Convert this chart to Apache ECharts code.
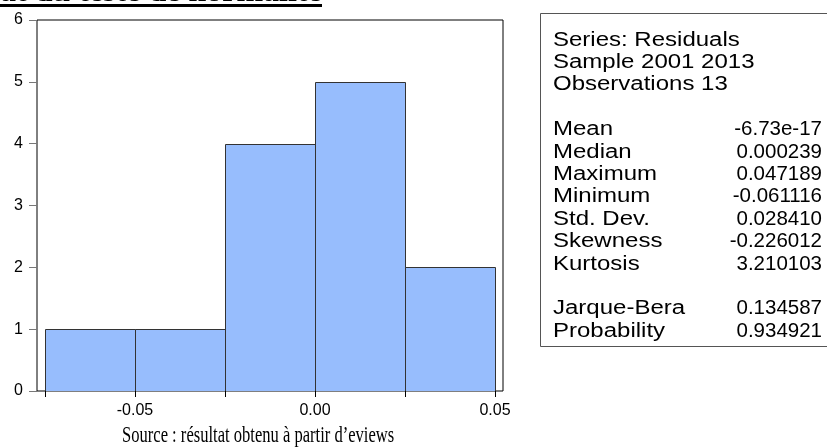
<!DOCTYPE html>
<html>
<head>
<meta charset="utf-8">
<script src="https://cdn.jsdelivr.net/npm/echarts@6/dist/echarts.min.js"></script>
<style>
  html, body { margin: 0; padding: 0; background: #fff; }
  #chart { width: 827px; height: 448px; }
</style>
</head>
<body>
<div id="chart"></div>
<script>
// histogram bins (lower edge, upper edge) and counts
const binStart = [-0.075, -0.05, -0.025, 0.0, 0.025];
const binEnd = [-0.05, -0.025, 0.0, 0.025, 0.05];
const counts = [1, 1, 4, 5, 2];

const xTicks = [-0.075, -0.05, -0.025, 0.0, 0.025, 0.05];
const xLabels = [-0.05, 0.0, 0.05];

const statHeader = ['Series: Residuals', 'Sample 2001 2013', 'Observations 13'];
const statNames = ['Mean', 'Median', 'Maximum', 'Minimum', 'Std. Dev.', 'Skewness', 'Kurtosis'];
const statValues = ['-6.73e-17', '0.000239', '0.047189', '-0.061116', '0.028410', '-0.226012', '3.210103'];
const testNames = ['Jarque-Bera', 'Probability'];
const testValues = ['0.134587', '0.934921'];

const chart = echarts.init(document.getElementById('chart'));

const sansFont = 'Liberation Sans, Arial, sans-serif';
const serifFont = 'Liberation Serif, Times New Roman, serif';
const lineH = 22.4;
const boxLeft = 553;
const boxRight = 822;
const firstRow = 40;

const statText = [];
const addRow = (label, value, row) => {
  const y = firstRow + row * lineH;
  statText.push({
    type: 'text', x: boxLeft, y: y, scaleX: 1.2,
    style: { text: label, font: '20px ' + sansFont, fill: '#000', verticalAlign: 'middle' }
  });
  if (value) {
    statText.push({
      type: 'text', x: boxRight, y: y,
      style: { text: value, font: '20.5px ' + sansFont, fill: '#000', align: 'right', verticalAlign: 'middle' }
    });
  }
};
statHeader.forEach((t, i) => addRow(t, null, i));
statNames.forEach((t, i) => addRow(t, statValues[i], i + 4));
testNames.forEach((t, i) => addRow(t, testValues[i], i + 12));

const option = {
  animation: false,
  grid: {
    left: 37, right: 324, top: 20, bottom: 57,
    show: true, borderColor: '#000', borderWidth: 1
  },
  xAxis: {
    type: 'value',
    min: -0.07722,
    max: 0.05222,
    axisLine: { show: false, onZero: false },
    splitLine: { show: false },
    axisTick: { show: true, length: 6, customValues: xTicks, lineStyle: { color: '#000' } },
    axisLabel: {
      customValues: xLabels,
      margin: 12,
      color: '#000',
      fontSize: 16,
      fontFamily: sansFont,
      formatter: v => v.toFixed(2)
    }
  },
  yAxis: {
    type: 'value',
    min: 0, max: 6, interval: 1,
    axisLine: { show: false, onZero: false },
    splitLine: { show: false },
    axisTick: { show: true, length: 8, lineStyle: { color: '#777' } },
    axisLabel: { margin: 14, color: '#000', fontSize: 16, fontFamily: sansFont }
  },
  series: [{
    type: 'custom',
    clip: true,
    data: counts.map((c, i) => [binStart[i], binEnd[i], c]),
    encode: { x: [0, 1], y: 2 },
    renderItem: (params, api) => {
      const p0 = api.coord([api.value(0), api.value(2)]);
      const p1 = api.coord([api.value(1), 0]);
      const x0 = Math.round(p0[0]) + 0.5;
      const x1 = Math.round(p1[0]) + 0.5;
      const y0 = Math.round(p0[1]) + 0.5;
      const y1 = Math.round(p1[1]) + 0.5;
      return {
        type: 'rect',
        shape: { x: x0, y: y0, width: x1 - x0, height: y1 - y0 },
        style: { fill: '#97bdfd', stroke: '#333', lineWidth: 1 }
      };
    }
  }],
  graphic: [
    {
      type: 'text', x: 0, y: 9,
      style: { text: 'at du teste de normalité', font: 'bold 32px ' + serifFont, fill: '#000', verticalAlign: 'bottom' }
    },
    { type: 'rect', x: 0, y: 4, shape: { width: 322, height: 3 }, style: { fill: '#000' } },
    {
      type: 'rect', x: 540.5, y: 13.5,
      shape: { width: 300, height: 333 },
      style: { fill: '#fff', stroke: '#555', lineWidth: 1 }
    },
    ...statText,
    {
      type: 'text', x: 122, y: 436, scaleX: 0.72,
      style: { text: 'Source : résultat obtenu à partir d’eviews', font: '23px ' + serifFont, fill: '#000', verticalAlign: 'middle' }
    }
  ]
};
chart.setOption(option);
</script>
</body>
</html>
